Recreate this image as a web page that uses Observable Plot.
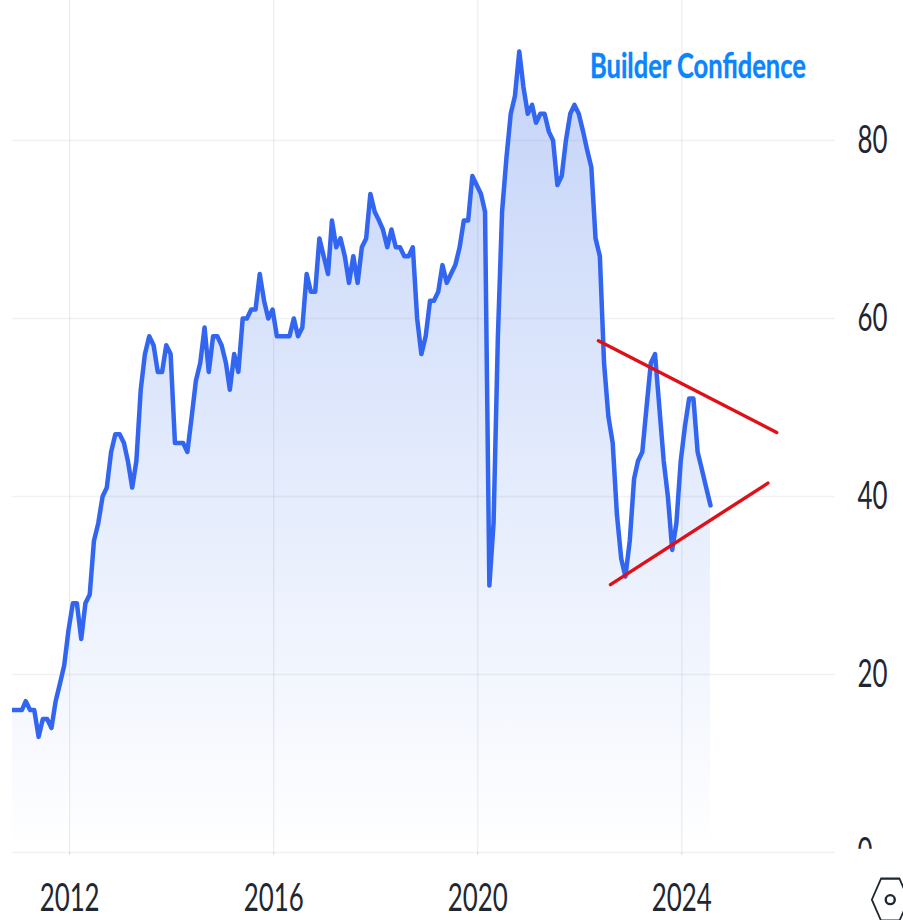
<!DOCTYPE html>
<html>
<head>
<meta charset="utf-8">
<script src="https://cdn.jsdelivr.net/npm/d3@7"></script>
<script src="https://cdn.jsdelivr.net/npm/@observablehq/plot@0.6"></script>
<style>
html,body{margin:0;padding:0;background:#fff}
svg{display:block}
</style>
</head>
<body>
<div id="chart"></div>
<script>
const seriesLabel = "Builder Confidence";
const startYear = 2010, startMonth = 10, startDay = -7;
const confidence = [
  16,16,
  16,16,17,16,16,13,15,15,14,17,19,21,
  25,28,28,24,28,29,35,37,40,41,45,47,
  47,46,44,41,44,52,56,58,57,54,54,57,
  56,46,46,46,45,49,53,55,59,54,58,58,
  57,55,52,56,54,60,60,61,61,65,62,60,
  61,58,58,58,58,60,58,59,65,63,63,69,
  67,65,71,68,69,67,64,67,64,68,69,74,
  72,71,70,68,70,68,68,67,67,68,60,56,
  58,62,62,63,66,64,65,66,68,71,71,76,
  75,74,72,30,37,58,72,78,83,85,90,86,
  83,84,82,83,83,81,80,75,76,80,83,84,
  83,81,79,77,69,67,55,49,46,38,33,31,
  35,42,44,45,50,55,56,50,44,40,34,37,
  44,48,51,51,45,43,41,39
];
const yTicks = [0,20,40,60,80];
const xTickYears = [2012,2016,2020,2024];
const upperTrendDates = [[2022,4,14],[2025,10,10]];
const upperTrendValues = [57.5,47.2];
const lowerTrendDates = [[2022,7,8],[2025,8,8]];
const lowerTrendValues = [30.1,41.5];
const labelDate = [2024,3,25];
const labelValue = 88.2;
const logoDate = [2028,1,1];
const logoValue = -5.3;

const utc = a => new Date(Date.UTC(a[0],a[1],a[2]));
const rows = confidence.map((v,i)=>({date:new Date(Date.UTC(startYear,startMonth+i,startDay)),value:v}));
const xTicks = xTickYears.map(y=>new Date(Date.UTC(y,0,1)));
const trend = (ds,vs)=>ds.map((d,i)=>({date:utc(d),value:vs[i]}));

const defsMark = () => {
  const ns = "http://www.w3.org/2000/svg";
  const defs = document.createElementNS(ns,"defs");
  const g = document.createElementNS(ns,"linearGradient");
  g.setAttribute("id","areaFade");
  g.setAttribute("x1","0");g.setAttribute("x2","0");g.setAttribute("y1","0");g.setAttribute("y2","1");
  [[0,"#c4d3f8"],[0.5,"#e2eafc"],[1,"#ffffff"]].forEach(([o,c])=>{
    const s=document.createElementNS(ns,"stop");
    s.setAttribute("offset",o);s.setAttribute("stop-color",c);g.appendChild(s);
  });
  defs.appendChild(g);
  return defs;
};

const axisFont = {fontFamily:"Lato, sans-serif",fontSize:38,fill:"#1f2733"};
const chart = Plot.plot({
  width:903,height:920,
  marginLeft:12,marginRight:68,marginTop:0,marginBottom:68,
  style:{background:"#fff",overflow:"hidden"},
  x:{type:"utc",domain:[new Date(Date.UTC(2010,10,18)),new Date(Date.UTC(2027,0,5))]},
  y:{domain:[0,95.73]},
  marks:[
    defsMark,
    Plot.areaY(rows,{x:"date",y:"value",fill:"url(#areaFade)",clip:true}),
    Plot.gridY(yTicks,{stroke:"#8a9aa0",strokeOpacity:0.13,strokeWidth:1.3}),
    Plot.gridX(xTicks,{stroke:"#7d8aa5",strokeOpacity:0.16,strokeWidth:1.2}),
    Plot.axisX(xTicks,{anchor:"bottom",tickSize:3,tickPadding:29,label:null,stroke:"#7d8aa5",strokeOpacity:0.3,
      tickFormat:d=>d.getUTCFullYear().toString(),...axisFont}),
    Plot.axisY(yTicks,{anchor:"right",tickSize:0,tickPadding:22,textAnchor:"start",label:null,...axisFont}),
    Plot.line(rows,{x:"date",y:"value",stroke:"#3366f0",strokeWidth:4.5,strokeLinejoin:"round",clip:true}),
    Plot.line(trend(upperTrendDates,upperTrendValues),{x:"date",y:"value",stroke:"#e01018",strokeWidth:3.4}),
    Plot.line(trend(lowerTrendDates,lowerTrendValues),{x:"date",y:"value",stroke:"#e01018",strokeWidth:3.4}),
    Plot.text([seriesLabel],{x:()=>utc(labelDate),y:()=>labelValue,text:d=>d,fill:"#0a84ff",
      stroke:"#0a84ff",strokeWidth:0.4,fontFamily:"Lato, sans-serif",fontWeight:700,fontSize:34}),
    Plot.dot([0],{x:()=>utc(logoDate),y:()=>logoValue,symbol:"hexagon",r:21,rotate:30,stroke:"#1f2733",strokeWidth:2.2,fill:"none",className:"logo-hex"}),
    Plot.dot([0],{x:()=>utc(logoDate),y:()=>logoValue,r:4.5,stroke:"#1f2733",strokeWidth:2.4,fill:"none"})
  ]
});
d3.select(chart).selectAll(".logo-hex path").each(function(){
  const t=this.getAttribute("transform");
  if(t) this.setAttribute("transform",t.replace("rotate(","scale(0.76,1) rotate("));
});
d3.select(chart).selectAll("text").each(function(){
  const t=this.textContent, el=d3.select(this);
  const len = t===seriesLabel?216:(t.length*15);
  el.attr("textLength",len).attr("lengthAdjust","spacingAndGlyphs");
  if(t==="0") el.style("clip-path","inset(0 0 52% 0)");
});
document.getElementById("chart").appendChild(chart);
</script>
</body>
</html>
